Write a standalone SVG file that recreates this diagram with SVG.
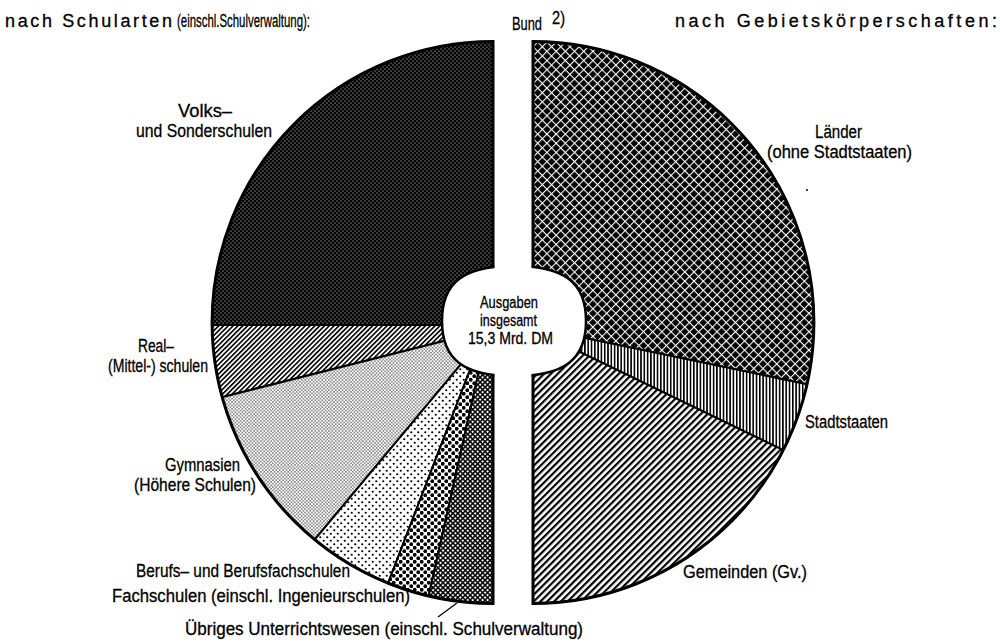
<svg xmlns="http://www.w3.org/2000/svg" width="1000" height="644" viewBox="0 0 1000 644">
<style>
.t{font-family:"Liberation Sans",Arial,sans-serif;font-size:18px;fill:#000;stroke:#000;stroke-width:0.3}
.c{font-family:"Liberation Sans",Arial,sans-serif;font-size:16px;fill:#000;stroke:#000;stroke-width:0.3}
.slice{stroke:#000;stroke-width:2;stroke-linejoin:round}
.outline{fill:none;stroke:#000;stroke-width:3}
.lead{stroke:#000;stroke-width:1.3;fill:none}
</style>
<defs>
<clipPath id="clipL"><path d="M493,41.5 A281,281 0 0 0 493,603.5 Z"/></clipPath>
<clipPath id="clipR"><path d="M533,41.5 A281,281 0 0 1 533,603.5 Z"/></clipPath>
<pattern id="pVolks" width="4" height="4" patternUnits="userSpaceOnUse">
<rect width="4" height="4" fill="#000"/><circle cx="1" cy="1" r="0.6" fill="#fff"/><circle cx="3" cy="3" r="0.6" fill="#fff"/>
</pattern>
<pattern id="pReal" width="3.4" height="10" patternUnits="userSpaceOnUse" patternTransform="rotate(45)">
<rect width="3.4" height="10" fill="#fff"/><rect width="1.6" height="10" fill="#000"/>
</pattern>
<pattern id="pGymn" width="3.4" height="3.4" patternUnits="userSpaceOnUse">
<rect width="3.4" height="3.4" fill="#fff"/><circle cx="0.85" cy="0.85" r="0.7" fill="#000"/><circle cx="2.55" cy="2.55" r="0.7" fill="#000"/>
</pattern>
<pattern id="pBerufs" width="7" height="7" patternUnits="userSpaceOnUse">
<rect width="7" height="7" fill="#fff"/><circle cx="1.75" cy="1.75" r="1.1" fill="#000"/><circle cx="5.25" cy="5.25" r="1.1" fill="#000"/>
</pattern>
<pattern id="pFach" width="7" height="7" patternUnits="userSpaceOnUse">
<rect width="7" height="7" fill="#fff"/><circle cx="1.75" cy="1.75" r="1.9" fill="#000"/><circle cx="5.25" cy="5.25" r="1.9" fill="#000"/>
</pattern>
<pattern id="pUbr" width="3.5" height="3.5" patternUnits="userSpaceOnUse" patternTransform="rotate(45)">
<rect width="3.5" height="3.5" fill="#fff"/><rect width="1.5" height="3.5" fill="#000"/><rect width="3.5" height="1.5" fill="#000"/>
</pattern>
<pattern id="pLaender" width="6.5" height="6.5" patternUnits="userSpaceOnUse" patternTransform="rotate(45)">
<rect width="6.5" height="6.5" fill="#000"/><rect width="1.1" height="6.5" fill="#fff"/><rect width="6.5" height="1.1" fill="#fff"/>
</pattern>
<pattern id="pStadt" width="3.3" height="10" patternUnits="userSpaceOnUse">
<rect width="3.3" height="10" fill="#fff"/><rect width="1.6" height="10" fill="#000"/>
</pattern>
<pattern id="pGem" width="4.8" height="10" patternUnits="userSpaceOnUse" patternTransform="rotate(45)">
<rect width="4.8" height="10" fill="#fff"/><rect width="2.2" height="10" fill="#000"/>
</pattern>
</defs>
<rect width="1000" height="644" fill="#fff"/>

<g clip-path="url(#clipL)">
<g id="volks"><path class="slice" fill="url(#pVolks)" d="M0,0 L494,0 L494,325 L0,325 Z"/></g>
<g id="real"><path class="slice" fill="url(#pReal)" d="M0,325 L494,325 L494,328.3 L0,453.5 Z"/></g>
<g id="gymnasien"><path class="slice" fill="url(#pGymn)" d="M0,453.5 L490.1,329.3 L181,700 L0,700 Z"/></g>
<g id="berufs"><path class="slice" fill="url(#pBerufs)" d="M481.7,339.4 L181,700 L343.2,700 Z"/></g>
<g id="fach"><path class="slice" fill="url(#pFach)" d="M491.9,312.8 L343.2,700 L405.4,700 Z"/></g>
<g id="uebriges"><path class="slice" fill="url(#pUbr)" d="M491.9,312.8 L405.4,700 L494,700 L494,312.8 Z"/></g>
</g>

<g clip-path="url(#clipR)">
<g id="laender"><path class="slice" fill="url(#pLaender)" d="M520,0 L1000,0 L1000,424.4 L520,324.5 Z"/></g>
<g id="stadtstaaten"><path class="slice" fill="url(#pStadt)" d="M525.3,325.6 L1000,424.4 L1000,554.8 Z"/></g>
<g id="gemeinden"><path class="slice" fill="url(#pGem)" d="M525.3,325.6 L1000,554.8 L1000,700 L520,700 L520,325.6 Z"/></g>
</g>

<g id="center">
<path d="M586,321 C586,359.5 564.4,376 514,376 C463.6,376 442,359.5 442,321 C442,282.5 463.6,266 514,266 C564.4,266 586,282.5 586,321 Z" fill="#fff" stroke="#000" stroke-width="2.5"/>
<rect x="494.5" y="250" width="37" height="140" fill="#fff"/>
<text class="c" x="480" y="308" textLength="58" lengthAdjust="spacingAndGlyphs">Ausgaben</text>
<text class="c" x="480" y="326" textLength="57" lengthAdjust="spacingAndGlyphs">insgesamt</text>
<text class="c" x="468" y="344" textLength="85" lengthAdjust="spacingAndGlyphs">15,3 Mrd. DM</text>
</g>

<g id="outlines">
<path class="outline" d="M493,267 L493,41.5 A281,281 0 0 0 493,603.5 L493,375"/>
<path class="outline" d="M533,267 L533,41.5 A281,281 0 0 1 533,603.5 L533,375"/>
</g>

<g id="connectors">
<path class="lead" d="M438,617 L457,603"/>
</g>

<g id="labels">
<text class="t" x="5" y="27" font-size="19" textLength="167">nach Schularten</text>
<text class="t" x="177" y="27" font-size="15" textLength="133" lengthAdjust="spacingAndGlyphs">(einschl.Schulverwaltung):</text>
<text class="t" x="512" y="30" textLength="30" lengthAdjust="spacingAndGlyphs">Bund</text>
<text class="t" x="552" y="24" font-size="11" textLength="13" lengthAdjust="spacingAndGlyphs">2)</text>
<text class="t" x="675" y="27" font-size="19" textLength="322">nach Gebietskörperschaften:</text>
<text class="t" x="178" y="117" textLength="54" lengthAdjust="spacingAndGlyphs">Volks–</text>
<text class="t" x="136" y="137" textLength="136" lengthAdjust="spacingAndGlyphs">und Sonderschulen</text>
<text class="t" x="138" y="352" textLength="36" lengthAdjust="spacingAndGlyphs">Real–</text>
<text class="t" x="108" y="372" textLength="100" lengthAdjust="spacingAndGlyphs">(Mittel-) schulen</text>
<text class="t" x="165" y="471" textLength="75" lengthAdjust="spacingAndGlyphs">Gymnasien</text>
<text class="t" x="134" y="491" textLength="122" lengthAdjust="spacingAndGlyphs">(Höhere Schulen)</text>
<text class="t" x="136" y="577" textLength="214" lengthAdjust="spacingAndGlyphs">Berufs– und Berufsfachschulen</text>
<text class="t" x="112" y="602" textLength="298" lengthAdjust="spacingAndGlyphs">Fachschulen (einschl. Ingenieurschulen)</text>
<text class="t" x="185" y="635" textLength="398" lengthAdjust="spacingAndGlyphs">Übriges Unterrichtswesen (einschl. Schulverwaltung)</text>
<text class="t" x="815" y="138" textLength="47" lengthAdjust="spacingAndGlyphs">Länder</text>
<text class="t" x="767" y="158" textLength="145" lengthAdjust="spacingAndGlyphs">(ohne Stadtstaaten)</text>
<text class="t" x="805" y="428" textLength="83" lengthAdjust="spacingAndGlyphs">Stadtstaaten</text>
<text class="t" x="683" y="578" textLength="124" lengthAdjust="spacingAndGlyphs">Gemeinden (Gv.)</text>
</g>
<circle cx="807" cy="190" r="1" fill="#000"/>
</svg>
